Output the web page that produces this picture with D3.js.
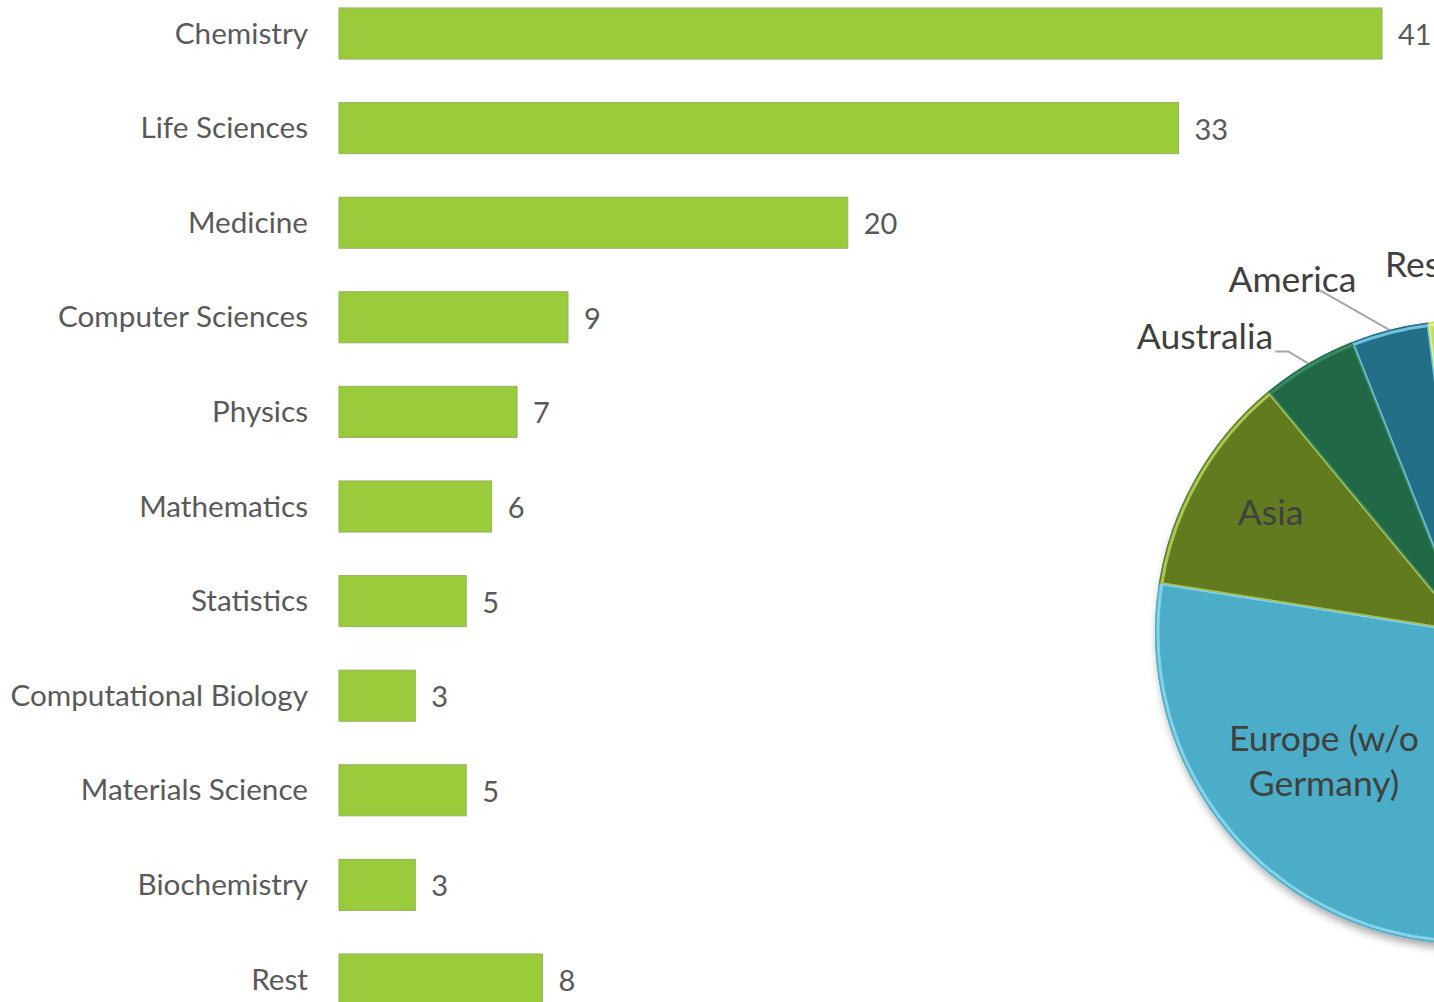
<!DOCTYPE html>
<html><head><meta charset="utf-8">
<script src="https://cdn.jsdelivr.net/npm/d3@7"></script>
<style>
html,body{margin:0;padding:0;background:#fff;overflow:hidden;}
svg{display:block;}
</style></head>
<body>
<svg id="chart" width="1434" height="1002"></svg>
<script>
// ---- data ----
const categories = ["Chemistry","Life Sciences","Medicine","Computer Sciences","Physics","Mathematics","Statistics","Computational Biology","Materials Science","Biochemistry","Rest"];
const counts = [41,33,20,9,7,6,5,3,5,3,8];
const regions = ["Germany","Europe (w/o Germany)","Asia","Australia","America","Rest"];
const regionShares = [50,27.5,11.5,5,4,2];
const regionColors = ["#9bbb59","#4badc8","#627b1f","#216946","#236f88","#c3df62"];
const regionHighlights = ["#c5dc8e","#8fd8ee","#b9d45a","#3f9068","#7fd0ee","#e6f59a"];

const svg = d3.select("#chart");

// ---- bar chart ----
const x = d3.scaleLinear().domain([0,41]).range([339,1382]);
const y = d3.scaleBand().domain(categories).range([-13.8,1026.8]).paddingInner(0.46).paddingOuter(0.23);

const bars = svg.append("g");
bars.selectAll("rect").data(categories).join("rect")
  .attr("x", x(0))
  .attr("y", d => y(d))
  .attr("width", (d,i) => x(counts[i]) - x(0))
  .attr("height", y.bandwidth())
  .attr("fill", "#9acb3a")
  .attr("stroke", "#97b060")
  .attr("stroke-width", 1);

const fontFam = "Lato, 'Open Sans', sans-serif";
bars.selectAll("text.cat").data(categories).join("text")
  .attr("class","cat")
  .attr("x", 308)
  .attr("y", d => y(d) + y.bandwidth()/2 - 1.5)
  .attr("text-anchor","end")
  .attr("dominant-baseline","central")
  .attr("font-family", fontFam)
  .attr("font-size", 29.7)
  .attr("fill", "#595959")
  .text(d => d);

bars.selectAll("text.val").data(categories).join("text")
  .attr("class","val")
  .attr("x", (d,i) => x(counts[i]) + 16)
  .attr("y", d => y(d) + y.bandwidth()/2)
  .attr("text-anchor","start")
  .attr("dominant-baseline","central")
  .attr("font-family", fontFam)
  .attr("font-size", 29)
  .attr("fill", "#595959")
  .text((d,i) => counts[i]);

// ---- pie chart ----
const cx = 1467, cy = 632, R = 312;
const defs = svg.append("defs");
const f = defs.append("filter").attr("id","shadow").attr("x","-20%").attr("y","-20%").attr("width","140%").attr("height","140%");
f.append("feDropShadow").attr("dx",2).attr("dy",5).attr("stdDeviation",4).attr("flood-color","#000").attr("flood-opacity",0.35);

const pieData = d3.pie().sort(null).value(d => d)(regionShares);
const arc = d3.arc().innerRadius(0).outerRadius(R);
const pg = svg.append("g").attr("transform",`translate(${cx},${cy})`);

pg.append("circle").attr("r",R).attr("fill","#4badc8").attr("filter","url(#shadow)");

pieData.forEach((p,i) => {
  defs.append("clipPath").attr("id","clip"+i).append("path").attr("d", arc(p));
});
pg.selectAll("path.slice").data(pieData).join("path")
  .attr("class","slice")
  .attr("d", arc)
  .attr("fill", (d,i) => regionColors[i]);
pg.selectAll("path.hl").data(pieData).join("path")
  .attr("class","hl")
  .attr("d", d3.arc().innerRadius(0).outerRadius(R-3))
  .attr("clip-path", (d,i) => `url(#clip${i})`)
  .attr("fill","none")
  .attr("stroke", (d,i) => regionHighlights[i])
  .attr("stroke-width", 3)
  .attr("stroke-opacity", 0.85);

// labels
const lblFont = 35.5;
const pt = (a, r) => [cx + r*Math.sin(a), cy - r*Math.cos(a)];
const mid = d => (d.startAngle + d.endAngle)/2;

// Europe inside
{
  const [lx,ly] = pt(mid(pieData[1]), 192);
  const t = svg.append("text").attr("text-anchor","middle").attr("font-family",fontFam)
    .attr("font-size",lblFont).attr("fill","#404040");
  t.append("tspan").attr("x",lx+3).attr("y",ly-6).text("Europe (w/o");
  t.append("tspan").attr("x",lx+3).attr("y",ly+39).text("Germany)");
}
// Asia inside
{
  const [lx,ly] = pt(mid(pieData[2]), 225);
  svg.append("text").attr("x",lx-1).attr("y",ly+4).attr("text-anchor","middle")
    .attr("font-family",fontFam).attr("font-size",lblFont).attr("fill","#404040").text(regions[2]);
}
// Australia outside with leader
{
  const [ex,ey] = pt(mid(pieData[3]), R);
  svg.append("path").attr("d",`M${ex},${ey} L${ex-20},${ey-12} L${ex-33},${ey-12}`)
    .attr("fill","none").attr("stroke","#a6a6a6").attr("stroke-width",2);
  svg.append("text").attr("x",ex-35).attr("y",ey-14).attr("text-anchor","end")
    .attr("font-family",fontFam).attr("font-size",lblFont).attr("fill","#404040").text(regions[3]);
}
// America outside with leader
{
  const [ex,ey] = pt(mid(pieData[4]), R);
  svg.append("path").attr("d",`M${ex},${ey} L${ex-72},${ey-41}`)
    .attr("fill","none").attr("stroke","#a6a6a6").attr("stroke-width",2);
  svg.append("text").attr("x",ex-97).attr("y",ey-38).attr("text-anchor","middle")
    .attr("font-family",fontFam).attr("font-size",lblFont).attr("fill","#404040").text(regions[4]);
}
// Rest outside (cut off by the right edge, as in the reference)
{
  svg.append("text").attr("x",1385).attr("y",277).attr("text-anchor","start")
    .attr("font-family",fontFam).attr("font-size",lblFont).attr("fill","#404040").text(regions[5]);
}
</script>
</body></html>
